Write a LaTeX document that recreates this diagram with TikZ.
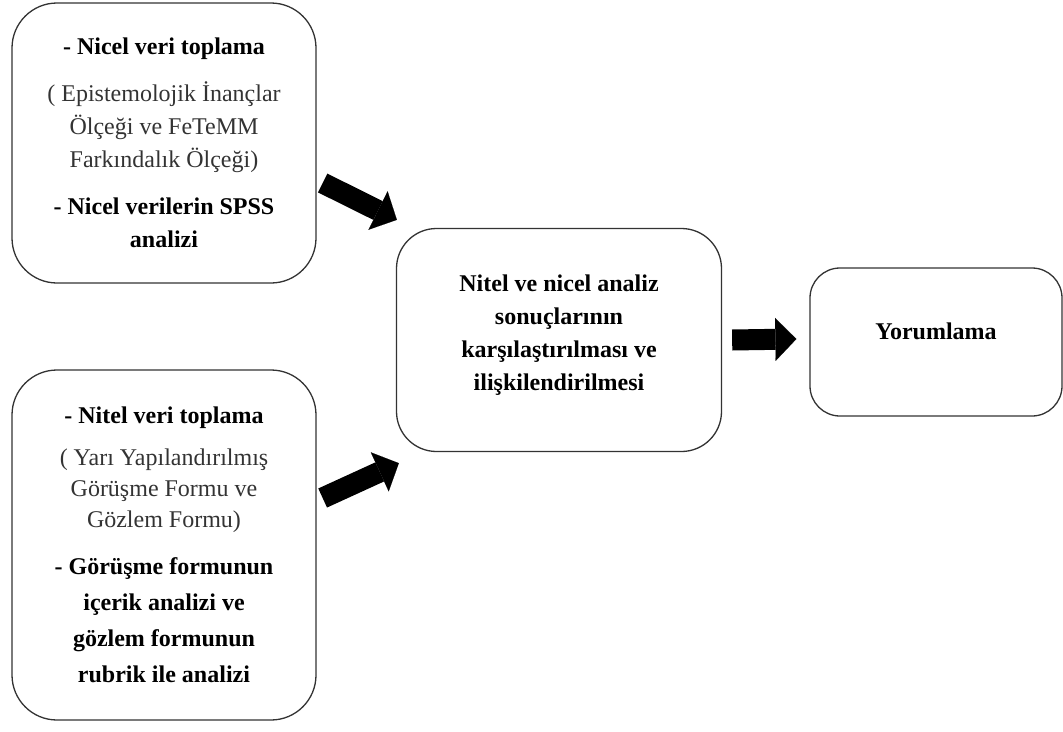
\documentclass[tikz,border=0pt]{standalone}
\usepackage{fontspec}
\setmainfont{Liberation Serif}
\usetikzlibrary{arrows.meta,calc}

\begin{document}
\begin{tikzpicture}[x=1pt,y=-1pt,
    kutu/.style={draw=black!80,line width=1.3pt,rounded corners=45pt,align=center,inner sep=0pt,font=\fontsize{24}{33}\selectfont},
    ok/.style={line width=21pt,-{Triangle[length=21pt,width=43pt,line width=0.1pt]}}]

    \useasboundingbox (0,0) rectangle (1063,731);

    \node[kutu,minimum width=304pt,minimum height=280pt] (nicel) at (164,143)
        {\textbf{- Nicel veri toplama}\\[14pt]
         \textcolor{black!80}{( Epistemolojik İnançlar}\\
         \textcolor{black!80}{Ölçeği ve FeTeMM}\\
         \textcolor{black!80}{Farkındalık Ölçeği)}\\[14pt]
         \textbf{- Nicel verilerin SPSS}\\
         \textbf{analizi}};

    \node[kutu,minimum width=304pt,minimum height=350pt] (nitel) at (164,545)
        {\textbf{- Nitel veri toplama}\\[9pt]
         \textcolor{black!80}{( Yarı Yapılandırılmış}\\[-2pt]
         \textcolor{black!80}{Görüşme Formu ve}\\[-2pt]
         \textcolor{black!80}{Gözlem Formu)}\\[14pt]
         \textbf{- Görüşme formunun}\\[3pt]
         \textbf{içerik analizi ve}\\[3pt]
         \textbf{gözlem formunun}\\[3pt]
         \textbf{rubrik ile analizi}};

    \node[kutu,rounded corners=40pt,minimum width=325pt,minimum height=223pt] (analiz) at (559,340)
        {\textbf{Nitel ve nicel analiz}\\
         \textbf{sonuçlarının}\\
         \textbf{karşılaştırılması ve}\\
         \textbf{ilişkilendirilmesi}\\[-18pt]};

    \node[kutu,rounded corners=30pt,minimum width=252pt,minimum height=148pt] (yorum) at (936,342)
        {\textbf{Yorumlama}\\[-12pt]};

    % oklar
    \draw[ok] ($(nicel.east)+(6,40)$) -- ($(analiz.north west)+(1,-8)$);
    \draw[ok] ($(nitel.east)+(6,-47)$) -- ($(analiz.south west)+(3,11)$);
    \draw[ok] ($(analiz.east)+(10,0)$) -- ($(yorum.west)+(-13,-3)$);

\end{tikzpicture}
\end{document}
